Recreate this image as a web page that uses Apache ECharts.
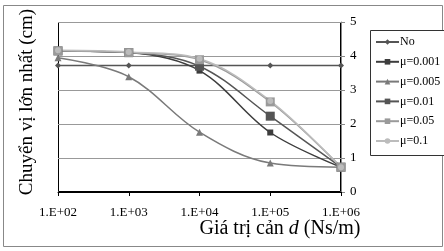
<!DOCTYPE html>
<html>
<head>
<meta charset="utf-8">
<script src="https://cdn.jsdelivr.net/npm/echarts@6/dist/echarts.min.js"></script>
<style>
html, body { margin: 0; padding: 0; background: #fff; }
#chart { width: 444px; height: 251px; }
</style>
</head>
<body>
<div id="chart"></div>
<script>
// gia tri can d
var categories = ['1.E+02', '1.E+03', '1.E+04', '1.E+05', '1.E+06'];
var seriesNames = ['No', 'μ=0.001', 'μ=0.005', 'μ=0.01', 'μ=0.05', 'μ=0.1'];
var dataNo = [3.72, 3.72, 3.72, 3.72, 3.72];
var data001 = [4.15, 4.10, 3.57, 1.75, 0.73];
var data005 = [3.95, 3.39, 1.76, 0.85, 0.73];
var data01 = [4.15, 4.10, 3.70, 2.23, 0.73];
var data05 = [4.15, 4.10, 3.89, 2.65, 0.73];
var data1 = [4.17, 4.12, 3.92, 2.68, 0.73];
var yTicks = [0, 1, 2, 3, 4, 5];

var font = '"Liberation Serif", "Times New Roman", serif';

function makeSeries(name, data, color, symbol, size, width) {
    return {
        name : name,
        type : 'line',
        smooth : 0.35,
        data : data,
        symbol : symbol,
        symbolSize : size,
        itemStyle : { color : color },
        lineStyle : { color : color, width : width }
    };
}

var chart = echarts.init(document.getElementById('chart'));
var option = {
    animation : false,
    backgroundColor : '#fff',
    textStyle : { fontFamily : font },
    graphic : [ {
        type : 'rect',
        shape : { x : 3.5, y : 5.5, width : 439, height : 241 },
        style : { fill : 'none', stroke : '#888', lineWidth : 1 },
        z : -1
    }, {
        // plot area border
        type : 'rect',
        shape : { x : 58.5, y : 22.5, width : 282, height : 169 },
        style : { fill : 'none', stroke : '#000', lineWidth : 1 },
        z : 0
    }, {
        // legend box
        type : 'rect',
        shape : { x : 370.5, y : 30.5, width : 80, height : 125 },
        style : { fill : '#fff', stroke : '#333', lineWidth : 1 },
        z : 0
    }, {
        type : 'text',
        x : 27,
        y : 102,
        rotation : Math.PI / 2,
        style : {
            text : 'Chuyển vị lớn nhất (cm)',
            font : '19px ' + font,
            fill : '#000',
            align : 'center',
            verticalAlign : 'middle'
        }
    }, {
        type : 'text',
        x : 280,
        y : 229,
        style : {
            text : '{a|Giá trị cản }{i|d}{a| (Ns/m)}',
            align : 'center',
            verticalAlign : 'middle',
            rich : {
                a : { fontSize : 20, fontFamily : font, fill : '#000' },
                i : { fontSize : 20, fontFamily : font, fontStyle : 'italic', fill : '#000' }
            }
        }
    } ],
    legend : {
        orient : 'vertical',
        left : 375,
        top : 36,
        itemWidth : 23,
        itemHeight : 7,
        itemGap : 7.8,
        padding : 0,
        data : seriesNames,
        z : 5,
        textStyle : { fontFamily : font, fontSize : 12, color : '#000', padding : [ 0, 0, 0, -4 ] }
    },
    grid : {
        left : 58,
        right : 103,
        top : 22,
        bottom : 59
    },
    xAxis : {
        type : 'category',
        boundaryGap : false,
        data : categories,
        axisLine : { lineStyle : { color : '#000' } },
        axisTick : { show : true, length : 4, lineStyle : { color : '#000' } },
        axisLabel : { color : '#000', fontSize : 13, fontFamily : font, margin : 14 }
    },
    yAxis : {
        type : 'value',
        position : 'right',
        min : yTicks[0],
        max : yTicks[yTicks.length - 1],
        interval : 1,
        axisLine : { show : true, lineStyle : { color : '#888' } },
        axisTick : { show : true, length : 4, lineStyle : { color : '#888' } },
        axisLabel : { color : '#000', fontSize : 13, fontFamily : font, margin : 9 },
        splitLine : { lineStyle : { color : '#999' } }
    },
    series : [
        makeSeries(seriesNames[0], dataNo, '#555', 'diamond', 6, 1.5),
        makeSeries(seriesNames[1], data001, '#3d3d3d', 'rect', 6, 1.5),
        makeSeries(seriesNames[2], data005, '#7a7a7a', 'triangle', 7, 1.5),
        makeSeries(seriesNames[3], data01, '#555', 'rect', 9, 1.5),
        makeSeries(seriesNames[4], data05, '#9a9a9a', 'rect', 9, 1.5),
        makeSeries(seriesNames[5], data1, '#bcbcbc', 'circle', 6, 1.5)
    ]
};
chart.setOption(option);
</script>
</body>
</html>
